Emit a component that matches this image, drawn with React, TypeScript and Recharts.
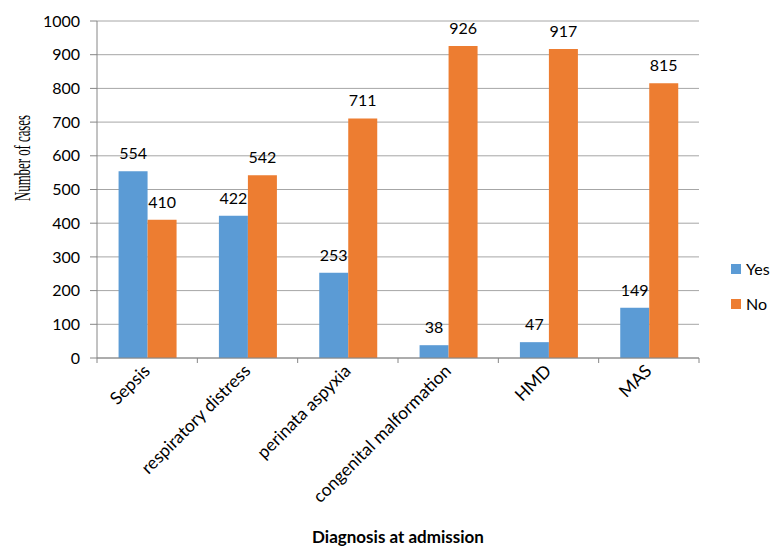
import React from "react"
import { BarChart, Bar, XAxis, YAxis, CartesianGrid, LabelList, Label } from "recharts"

const diagnoses = ["Sepsis", "respiratory distress", "perinata aspyxia", "congenital malformation", "HMD", "MAS"]
const yesCases = [554, 422, 253, 38, 47, 149]
const noCases = [410, 542, 711, 926, 917, 815]
const yTicks = [0, 100, 200, 300, 400, 500, 600, 700, 800, 900, 1000]
const seriesNames = ["Yes", "No"]
const seriesColors = ["#5B9BD5", "#ED7D31"]

const data = diagnoses.map((d, i) => ({ name: d, Yes: yesCases[i], No: noCases[i] }))

const FONT = "Lato, 'Open Sans', sans-serif"

function CategoryTick(props: any) {
  const { x, y, payload } = props
  const half = payload.offset || 50
  return (
    <g>
      <line x1={x - half} y1={y - 8} x2={x - half} y2={y - 3} stroke="#868686" />
      {payload.index === diagnoses.length - 1 && (
        <line x1={x + half} y1={y - 8} x2={x + half} y2={y - 3} stroke="#868686" />
      )}
      <text
        x={x + 4}
        y={y + 6}
        textAnchor="end"
        transform={`rotate(-45, ${x + 4}, ${y + 6})`}
        fontSize={17.5}
        fontFamily={FONT}
        fill="#000"
      >
        {payload.value}
      </text>
    </g>
  )
}

function YTitle() {
  const cx = 22
  const cy = 158
  return (
    <text
      x={cx}
      y={cy}
      transform={`rotate(-90, ${cx}, ${cy})`}
      textAnchor="middle"
      dominantBaseline="central"
      fontSize={24}
      textLength={86}
      lengthAdjust="spacingAndGlyphs"
      fontFamily="'Liberation Serif', 'Times New Roman', serif"
      fill="#000"
    >
      Number of cases
    </text>
  )
}

export default function App() {
  return (
    <div style={{ position: "absolute", left: 0, top: 0, width: 772, height: 548, background: "#fff" }}>
      <BarChart
        width={772}
        height={548}
        data={data}
        margin={{ top: 21, right: 73, bottom: 0, left: 0 }}
        barCategoryGap="21.5%"
        barGap={0}
      >
        <CartesianGrid vertical={false} stroke="#A6A6A6" />
        <XAxis
          dataKey="name"
          interval={0}
          height={190}
          tickLine={false}
          axisLine={{ stroke: "#868686" }}
          tick={<CategoryTick />}
        >
          <Label
            value="Diagnosis at admission"
            position="insideBottom"
            offset={5}
            style={{ fontFamily: FONT, fontSize: 17, fontWeight: 700, fill: "#000" }}
          />
        </XAxis>
        <YAxis
          width={97}
          domain={[0, 1000]}
          ticks={yTicks}
          interval={0}
          tickSize={7}
          tickMargin={10}
          tickLine={{ stroke: "#868686" }}
          axisLine={{ stroke: "#868686" }}
          tick={{ fill: "#000", fontSize: 16, fontFamily: FONT }}
        >
          <Label content={<YTitle />} />
        </YAxis>
        <Bar dataKey="Yes" fill={seriesColors[0]} isAnimationActive={false}>
          <LabelList dataKey="Yes" position="top" offset={12} style={{ fill: "#000", fontSize: 16, fontFamily: FONT }} />
        </Bar>
        <Bar dataKey="No" fill={seriesColors[1]} isAnimationActive={false}>
          <LabelList dataKey="No" position="top" offset={12} style={{ fill: "#000", fontSize: 16, fontFamily: FONT }} />
        </Bar>
      </BarChart>
      <div style={{ position: "absolute", left: 731, top: 251, fontFamily: FONT, fontSize: 16, color: "#000" }}>
        {seriesNames.map((n, i) => (
          <div key={n} style={{ display: "flex", alignItems: "center", height: 35 }}>
            <span style={{ width: 10, height: 10, background: seriesColors[i], marginRight: 5, display: "inline-block" }} />
            {n}
          </div>
        ))}
      </div>
    </div>
  )
}
